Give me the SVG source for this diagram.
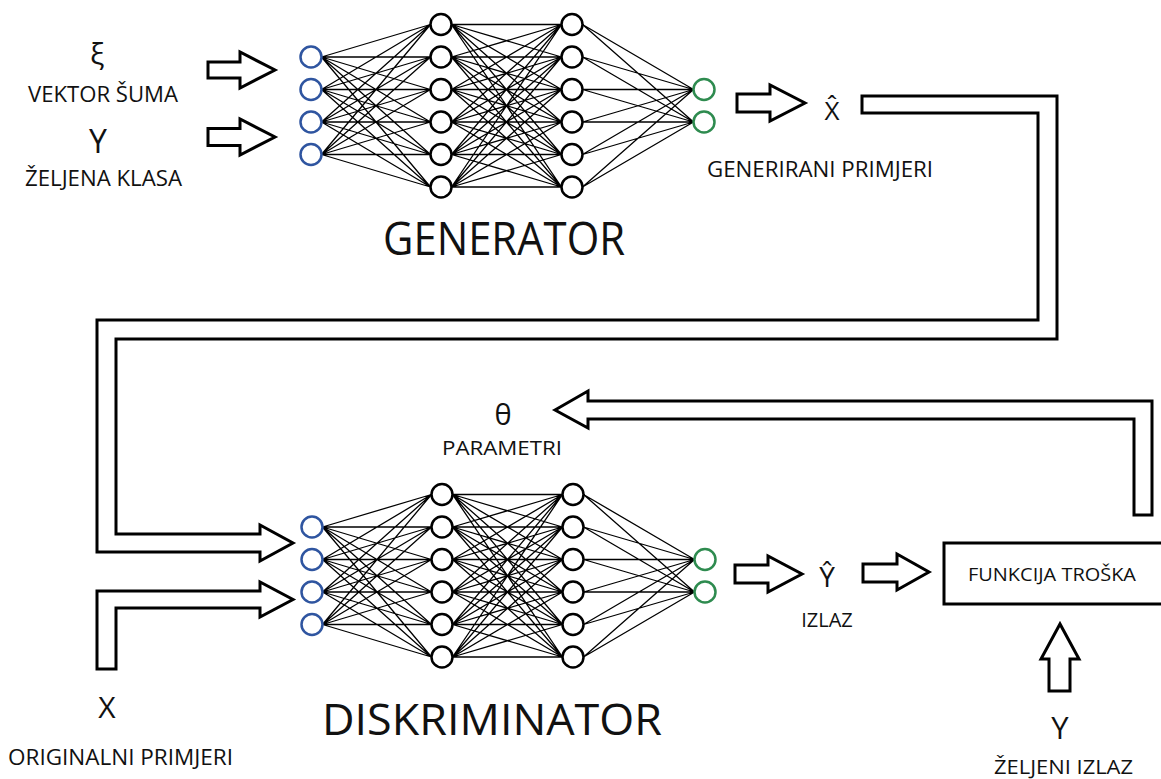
<svg xmlns="http://www.w3.org/2000/svg" xmlns:xlink="http://www.w3.org/1999/xlink" width="1161" height="779" viewBox="0 0 1161 779">
<style>
.t{font-family:"Open Sans","Liberation Sans",sans-serif;fill:#111}
.blk{fill:#fff;stroke:#000;stroke-width:3;stroke-linejoin:miter}
.edge{fill:none;stroke:#000;stroke-width:1.3}
.hid{fill:#fff;stroke:#000;stroke-width:2.5}
.inp{fill:#fff;stroke:#2f55a0;stroke-width:2.5}
.out{fill:#fff;stroke:#2e8b4f;stroke-width:2.5}
</style>
<defs>
<g id="net">
<path class="edge" d="M321.5 57L430.5 24.5M321.5 57L430.5 57M321.5 57L430.5 89.5M321.5 57L430.5 122M321.5 57L430.5 154.5M321.5 57L430.5 187M321.5 89.5L430.5 24.5M321.5 89.5L430.5 57M321.5 89.5L430.5 89.5M321.5 89.5L430.5 122M321.5 89.5L430.5 154.5M321.5 89.5L430.5 187M321.5 122L430.5 24.5M321.5 122L430.5 57M321.5 122L430.5 89.5M321.5 122L430.5 122M321.5 122L430.5 154.5M321.5 122L430.5 187M321.5 154.5L430.5 24.5M321.5 154.5L430.5 57M321.5 154.5L430.5 89.5M321.5 154.5L430.5 122M321.5 154.5L430.5 154.5M321.5 154.5L430.5 187"/>
<path class="edge" d="M451.5 24.5L561.5 24.5M451.5 24.5L561.5 57M451.5 24.5L561.5 89.5M451.5 24.5L561.5 122M451.5 24.5L561.5 154.5M451.5 24.5L561.5 187M451.5 57L561.5 24.5M451.5 57L561.5 57M451.5 57L561.5 89.5M451.5 57L561.5 122M451.5 57L561.5 154.5M451.5 57L561.5 187M451.5 89.5L561.5 24.5M451.5 89.5L561.5 57M451.5 89.5L561.5 89.5M451.5 89.5L561.5 122M451.5 89.5L561.5 154.5M451.5 89.5L561.5 187M451.5 122L561.5 24.5M451.5 122L561.5 57M451.5 122L561.5 89.5M451.5 122L561.5 122M451.5 122L561.5 154.5M451.5 122L561.5 187M451.5 154.5L561.5 24.5M451.5 154.5L561.5 57M451.5 154.5L561.5 89.5M451.5 154.5L561.5 122M451.5 154.5L561.5 154.5M451.5 154.5L561.5 187M451.5 187L561.5 24.5M451.5 187L561.5 57M451.5 187L561.5 89.5M451.5 187L561.5 122M451.5 187L561.5 154.5M451.5 187L561.5 187"/>
<path class="edge" d="M582.5 24.5L693.5 89.5M582.5 24.5L693.5 122M582.5 57L693.5 89.5M582.5 57L693.5 122M582.5 89.5L693.5 89.5M582.5 89.5L693.5 122M582.5 122L693.5 89.5M582.5 122L693.5 122M582.5 154.5L693.5 89.5M582.5 154.5L693.5 122M582.5 187L693.5 89.5M582.5 187L693.5 122"/>
<circle class="inp" cx="311" cy="57" r="10.5"/><circle class="inp" cx="311" cy="89.5" r="10.5"/><circle class="inp" cx="311" cy="122" r="10.5"/><circle class="inp" cx="311" cy="154.5" r="10.5"/>
<circle class="hid" cx="441" cy="24.5" r="10.5"/><circle class="hid" cx="441" cy="57" r="10.5"/><circle class="hid" cx="441" cy="89.5" r="10.5"/><circle class="hid" cx="441" cy="122" r="10.5"/><circle class="hid" cx="441" cy="154.5" r="10.5"/><circle class="hid" cx="441" cy="187" r="10.5"/>
<circle class="hid" cx="572" cy="24.5" r="10.5"/><circle class="hid" cx="572" cy="57" r="10.5"/><circle class="hid" cx="572" cy="89.5" r="10.5"/><circle class="hid" cx="572" cy="122" r="10.5"/><circle class="hid" cx="572" cy="154.5" r="10.5"/><circle class="hid" cx="572" cy="187" r="10.5"/>
<circle class="out" cx="704" cy="89.5" r="10.5"/><circle class="out" cx="704" cy="122" r="10.5"/>
</g>
</defs>
<rect width="1161" height="779" fill="#fff"/>

<g id="connectors">
<polygon class="blk" points="208,62 240,62 240,52 275,70 240,88 240,78 208,78"/>
<polygon class="blk" points="208,128.5 240,128.5 240,119 275,137 240,155 240,145.5 208,145.5"/>
<polygon class="blk" points="737,94 770,94 770,85 805,103 770,121 770,112 737,112"/>
<polygon class="blk" points="862,96 1057,96 1057,339 116,339 116,534 260,534 260,525 293,543 260,561 260,552 97,552 97,320 1038,320 1038,113 862,113"/>
<polygon class="blk" points="97,669 97,591 260,591 260,582 293,599.5 260,617 260,608 116,608 116,669"/>
<polygon class="blk" points="555,410 588,391 588,401 1152,401 1152,515 1134,515 1134,419 588,419 588,428"/>
<polygon class="blk" points="735,565 768,565 768,556 802,574 768,592 768,583 735,583"/>
<polygon class="blk" points="863,564 897,564 897,554 929,572 897,590 897,582 863,582"/>
<polygon class="blk" points="1049,691 1049,659 1041,659 1060,624 1079,659 1070,659 1070,691"/>
</g>

<g id="noise-input">
<text class="t" x="97" y="64" font-size="30" text-anchor="middle">ξ</text>
<text class="t" x="103" y="102" font-size="21" text-anchor="middle" textLength="150" lengthAdjust="spacingAndGlyphs">VEKTOR ŠUMA</text>
</g>
<g id="class-input">
<text class="t" x="98" y="153" font-size="32" text-anchor="middle">Y</text>
<text class="t" x="103.5" y="186" font-size="21" text-anchor="middle" textLength="157" lengthAdjust="spacingAndGlyphs">ŽELJENA KLASA</text>
</g>
<g id="generator">
<use xlink:href="#net" href="#net"/>
<text class="t" x="383" y="255" font-size="45" textLength="242" lengthAdjust="spacingAndGlyphs">GENERATOR</text>
</g>
<g id="generated">
<text class="t" x="832" y="120" font-size="26" text-anchor="middle">X&#x302;</text>
<text class="t" x="707" y="177" font-size="21" textLength="226" lengthAdjust="spacingAndGlyphs">GENERIRANI PRIMJERI</text>
</g>
<g id="parameters">
<text class="t" x="503" y="425" font-size="29" text-anchor="middle">θ</text>
<text class="t" x="442" y="455" font-size="20" textLength="120" lengthAdjust="spacingAndGlyphs">PARAMETRI</text>
</g>
<g id="discriminator">
<use xlink:href="#net" href="#net" transform="translate(1,470)"/>
<text class="t" x="322" y="735" font-size="43" textLength="340" lengthAdjust="spacingAndGlyphs">DISKRIMINATOR</text>
</g>
<g id="original">
<text class="t" x="107" y="718" font-size="30" text-anchor="middle">X</text>
<text class="t" x="8" y="765" font-size="21" textLength="225" lengthAdjust="spacingAndGlyphs">ORIGINALNI PRIMJERI</text>
</g>
<g id="output">
<text class="t" x="827" y="587" font-size="28" text-anchor="middle">Y&#x302;</text>
<text class="t" x="827" y="627" font-size="20" text-anchor="middle">IZLAZ</text>
</g>
<g id="cost">
<rect x="944" y="543" width="230" height="61" fill="#fff" stroke="#000" stroke-width="3"/>
<text class="t" x="968" y="581" font-size="19" textLength="168" lengthAdjust="spacingAndGlyphs">FUNKCIJA TROŠKA</text>
</g>
<g id="desired">
<text class="t" x="1060" y="739" font-size="31" text-anchor="middle">Y</text>
<text class="t" x="994" y="774" font-size="20" textLength="139" lengthAdjust="spacingAndGlyphs">ŽELJENI IZLAZ</text>
</g>
</svg>
